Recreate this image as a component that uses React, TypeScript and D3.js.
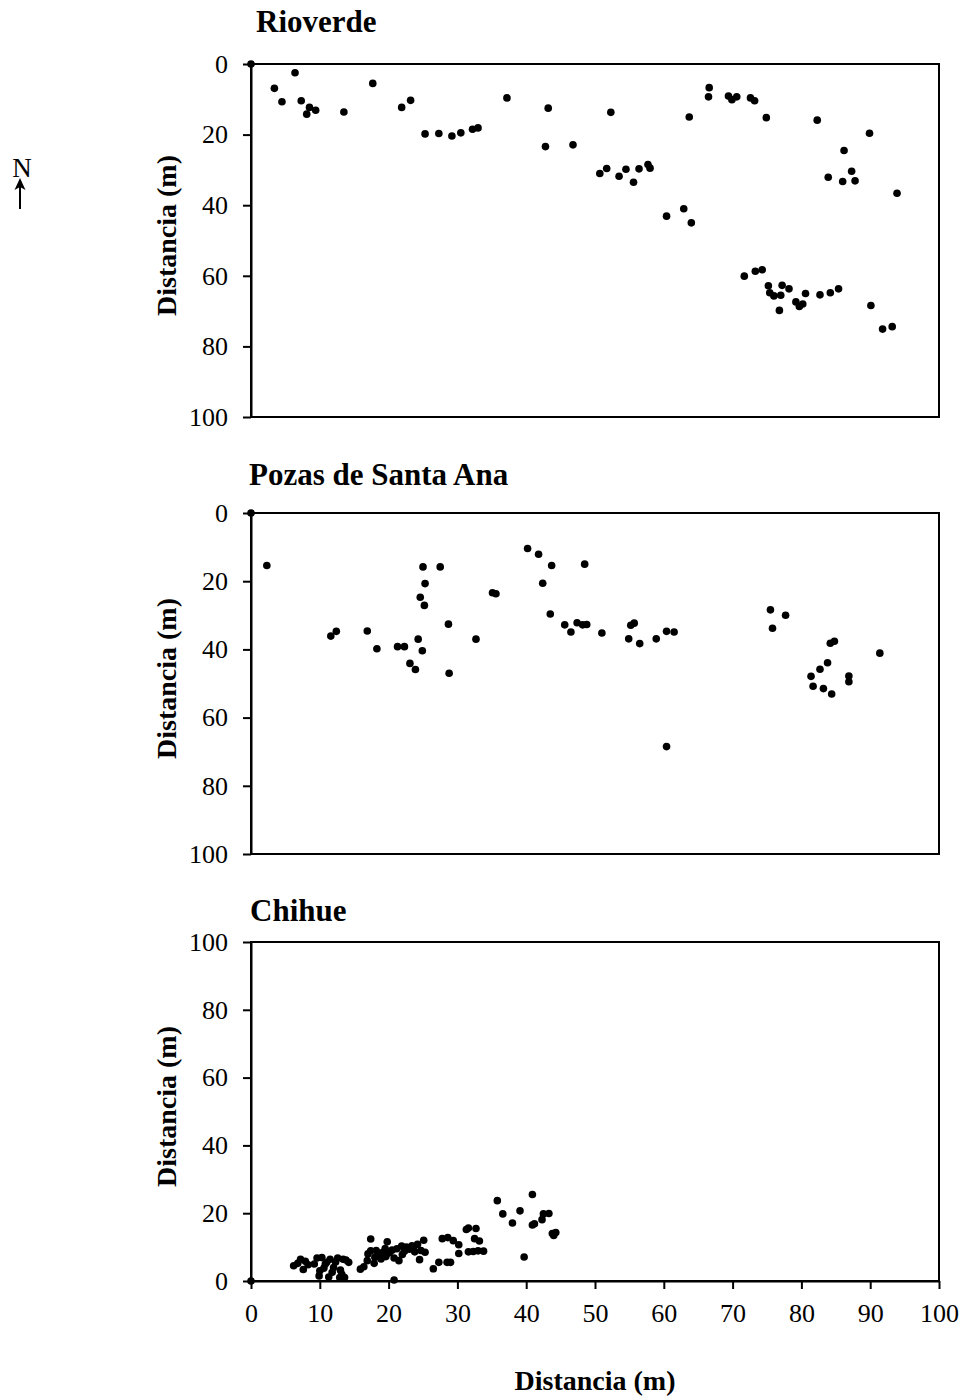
import React, { useEffect, useRef } from 'react';
import * as d3 from 'd3';

// point coordinates (x, y) in metres
const rioverde: [number, number][] = [
  [0, 0], [3.4, 6.9], [6.4, 2.5], [4.5, 10.7], [7.3, 10.4], [8.5, 12.3], [8.1, 14.2], [9.4, 13.1],
  [13.5, 13.6], [17.7, 5.5], [21.9, 12.3], [23.2, 10.3], [25.3, 19.8], [27.3, 19.7], [29.2, 20.4],
  [30.5, 19.5], [32.2, 18.5], [33.0, 18.1], [37.2, 9.6], [43.2, 12.5], [42.8, 23.4], [46.8, 22.9],
  [52.3, 13.7], [63.7, 15.0], [66.6, 6.7], [66.5, 9.3], [69.4, 9.1], [69.9, 10.1], [70.6, 9.3],
  [72.6, 9.6], [73.2, 10.4], [74.9, 15.2], [82.3, 15.9], [89.9, 19.6], [86.2, 24.5], [83.9, 32.1],
  [86.0, 33.3], [87.3, 30.4], [87.8, 33.1], [93.9, 36.6], [50.7, 31.0], [51.7, 29.6], [53.5, 31.8],
  [54.5, 29.8], [55.6, 33.5], [56.4, 29.7], [57.7, 28.5], [58.0, 29.5], [60.4, 43.1], [62.9, 41.0],
  [64.0, 45.0], [71.7, 60.1], [73.3, 58.7], [74.3, 58.3], [75.2, 62.8], [75.4, 64.8], [76.0, 65.7],
  [77.0, 65.5], [77.2, 62.7], [78.2, 63.7], [76.8, 69.8], [80.6, 65.0], [79.2, 67.4], [79.7, 68.7],
  [80.2, 68.0], [82.7, 65.4], [84.2, 64.8], [85.4, 63.7], [90.1, 68.4], [91.8, 75.1], [93.2, 74.4],
];

const pozas: [number, number][] = [
  [0, 0], [2.3, 15.4], [11.6, 36.1], [12.4, 34.7], [16.9, 34.6], [18.3, 39.8], [21.3, 39.2],
  [22.3, 39.2], [23.1, 44.1], [23.9, 45.9], [24.3, 37.0], [24.9, 40.4], [24.6, 24.7], [25.2, 27.1],
  [25.3, 20.7], [25.0, 15.8], [27.5, 15.8], [28.7, 32.6], [28.8, 47.0], [32.7, 37.0], [35.1, 23.4],
  [35.6, 23.7], [40.2, 10.4], [41.8, 12.1], [43.7, 15.4], [42.4, 20.6], [43.5, 29.6], [45.6, 32.8],
  [46.5, 34.9], [47.4, 32.2], [48.2, 32.8], [48.8, 32.7], [48.5, 15.0], [51.0, 35.2], [54.9, 36.9],
  [55.2, 32.9], [55.7, 32.3], [56.5, 38.3], [58.9, 36.9], [60.4, 34.7], [61.5, 34.9], [60.4, 68.5],
  [75.5, 28.4], [75.8, 33.8], [77.7, 30.0], [84.2, 38.2], [84.8, 37.6], [91.4, 41.1], [83.8, 43.9],
  [82.7, 45.8], [81.4, 47.9], [81.7, 50.8], [83.2, 51.5], [84.4, 53.1], [86.9, 47.8], [86.9, 49.5],
];

const chihue: [number, number][] = [
  [0, 0], [20.8, 0.3], [6.2, 4.5], [6.8, 5.2], [7.2, 6.4], [7.6, 3.4], [7.9, 5.8], [8.3, 4.8],
  [9.6, 6.8], [9.9, 1.5], [10.3, 6.9], [10.6, 3.8], [11.0, 5.5], [11.3, 1.2], [11.5, 6.4], [12.0, 4.0],
  [12.6, 6.8], [12.9, 1.0], [13.2, 2.0], [13.4, 6.4], [13.6, 1.0], [14.2, 5.5], [15.9, 3.5],
  [9.2, 5.0], [10.0, 3.0], [10.8, 5.0], [11.8, 2.6], [12.3, 5.6], [13.0, 3.2], [13.8, 6.2],
  [16.4, 4.2], [16.9, 6.0], [17.4, 12.4], [17.4, 8.9], [17.9, 5.2], [18.2, 9.0], [18.6, 7.5],
  [18.9, 6.5], [19.1, 8.4], [19.5, 9.6], [19.8, 11.6], [20.1, 8.3], [20.5, 9.1], [20.8, 6.8],
  [21.2, 9.5], [21.5, 6.0], [21.9, 10.3], [22.3, 8.8], [22.6, 10.0], [23.0, 9.4], [23.4, 10.4],
  [23.8, 8.6], [24.2, 10.8], [24.5, 6.3], [24.7, 9.0], [25.1, 12.0], [25.3, 8.5], [26.5, 3.6],
  [17.0, 8.0], [18.0, 7.0], [19.6, 7.2], [22.0, 7.8], [23.6, 9.8],
  [27.3, 5.5], [27.8, 12.5], [28.5, 5.5], [28.6, 12.8], [29.0, 5.5], [29.4, 11.9], [30.2, 10.7],
  [30.2, 8.1], [31.3, 15.2], [31.6, 15.6], [31.6, 8.6], [32.3, 8.7], [32.7, 15.5], [32.5, 12.5],
  [33.2, 11.8], [33.0, 8.9], [33.8, 8.8], [35.8, 23.7], [36.6, 19.8], [38.0, 17.1], [39.1, 20.7],
  [39.7, 7.1], [40.9, 25.5], [40.9, 16.5], [41.2, 16.9], [42.3, 18.1], [42.5, 19.8], [43.3, 19.9],
  [43.8, 14.0], [44.0, 13.4], [44.3, 14.3],
];

const siteNames = ['Rioverde', 'Pozas de Santa Ana', 'Chihue'];
const yTicks = [0, 20, 40, 60, 80, 100];
const xTicks = [0, 10, 20, 30, 40, 50, 60, 70, 80, 90, 100];
const axisLabel = 'Distancia (m)';

const App = () => {
  const svgRef = useRef<SVGSVGElement>(null);

  useEffect(() => {
    const svg = d3.select(svgRef.current);
    svg.selectAll('*').remove();
    const font = '"Liberation Serif", "Times New Roman", serif';

    const left = 251;
    const right = 939;
    const x = d3.scaleLinear().domain([0, 100]).range([left, right]);

    const panels = [
      { name: siteNames[0], pts: rioverde, top: 64, bottom: 417, flip: false, titleX: 256, titleY: 32 },
      { name: siteNames[1], pts: pozas, top: 513, bottom: 854, flip: false, titleX: 249, titleY: 485 },
      { name: siteNames[2], pts: chihue, top: 942, bottom: 1281, flip: true, titleX: 250, titleY: 921 },
    ];

    panels.forEach((p) => {
      const y = d3.scaleLinear()
        .domain([0, 100])
        .range(p.flip ? [p.bottom, p.top] : [p.top, p.bottom]);
      const g = svg.append('g');

      g.append('rect')
        .attr('x', left)
        .attr('y', p.top)
        .attr('width', right - left)
        .attr('height', p.bottom - p.top)
        .attr('fill', 'none')
        .attr('stroke', '#000')
        .attr('stroke-width', 2);

      const ya = g.append('g')
        .attr('transform', `translate(${left},0)`)
        .call(d3.axisLeft(y).tickValues(yTicks).tickSize(8).tickSizeOuter(0).tickPadding(15));
      ya.select('.domain').attr('stroke-width', 2);
      ya.selectAll('line').attr('stroke-width', 2);
      ya.selectAll('text').attr('font-family', font).attr('font-size', 26).attr('fill', '#000');

      if (p.flip) {
        const xa = g.append('g')
          .attr('transform', `translate(0,${p.bottom})`)
          .call(d3.axisBottom(x).tickValues(xTicks).tickSize(8).tickSizeOuter(0).tickPadding(15));
        xa.select('.domain').attr('stroke-width', 2);
        xa.selectAll('line').attr('stroke-width', 2);
        xa.selectAll('text').attr('font-family', font).attr('font-size', 26).attr('fill', '#000');
      }

      g.selectAll('circle')
        .data(p.pts)
        .enter()
        .append('circle')
        .attr('cx', (d) => x(d[0]))
        .attr('cy', (d) => y(d[1]))
        .attr('r', 3.8)
        .attr('fill', '#000');

      g.append('text')
        .attr('x', p.titleX)
        .attr('y', p.titleY)
        .attr('font-family', font)
        .attr('font-weight', 'bold')
        .attr('font-size', 31)
        .text(p.name);

      g.append('text')
        .attr('transform', `translate(176,${(p.top + p.bottom) / 2 - 5}) rotate(-90)`)
        .attr('text-anchor', 'middle')
        .attr('font-family', font)
        .attr('font-weight', 'bold')
        .attr('font-size', 28)
        .text(axisLabel);
    });

    svg.append('text')
      .attr('x', 595)
      .attr('y', 1390)
      .attr('text-anchor', 'middle')
      .attr('font-family', font)
      .attr('font-weight', 'bold')
      .attr('font-size', 28)
      .text(axisLabel);

    // north arrow
    svg.append('text')
      .attr('x', 22)
      .attr('y', 177)
      .attr('text-anchor', 'middle')
      .attr('font-family', font)
      .attr('font-size', 27)
      .text('N');
    svg.append('line')
      .attr('x1', 20).attr('x2', 20)
      .attr('y1', 182).attr('y2', 209)
      .attr('stroke', '#000')
      .attr('stroke-width', 2);
    svg.append('path')
      .attr('d', 'M20,178 L14.5,190 L20,187 L25.5,190 Z')
      .attr('fill', '#000');
  }, []);

  return (
    <svg
      ref={svgRef}
      width={962}
      height={1397}
      style={{ position: 'absolute', left: 0, top: 0, background: '#fff' }}
    />
  );
};

export default App;
